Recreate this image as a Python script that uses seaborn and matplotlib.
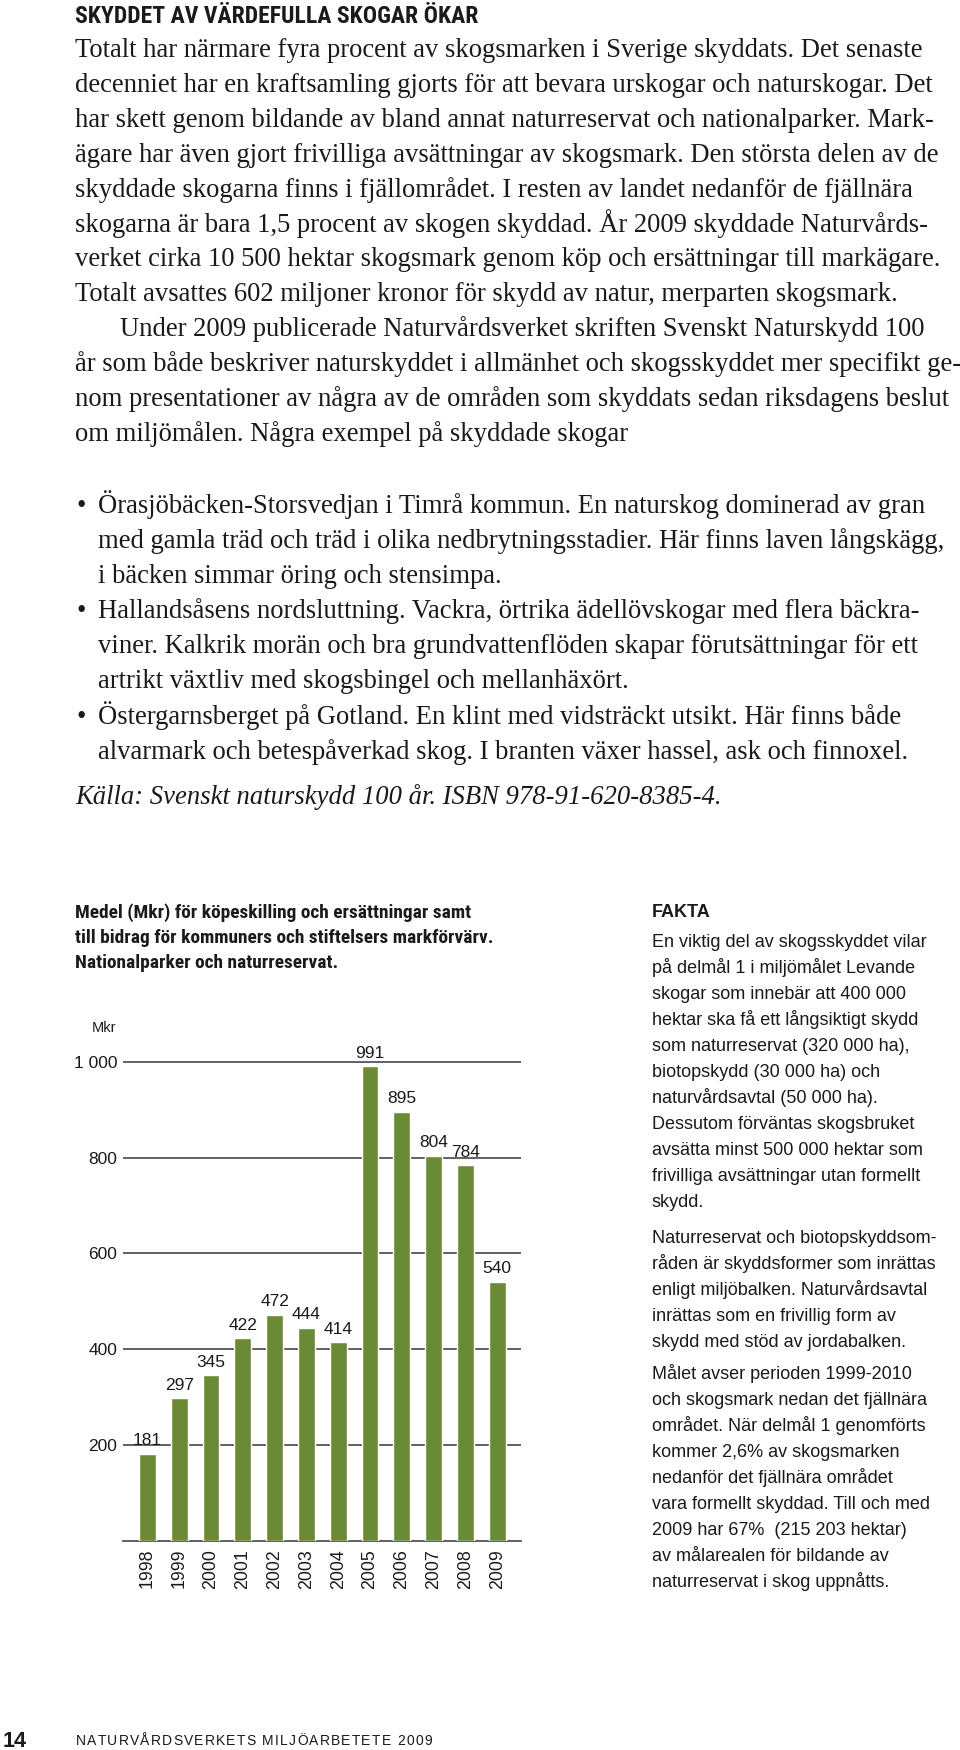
import numpy as np
import pandas as pd
import seaborn as sns
import matplotlib.pyplot as plt
from matplotlib import font_manager
from matplotlib.font_manager import FontProperties

# Data
years = ['1998', '1999', '2000', '2001', '2002', '2003',
         '2004', '2005', '2006', '2007', '2008', '2009']
mkr = [181, 297, 345, 422, 472, 444, 414, 991, 895, 804, 784, 540]
y_ticks = [200, 400, 600, 800, 1000]
y_tick_labels = ['200', '400', '600', '800', '1 000']

heading = 'SKYDDET AV VÄRDEFULLA SKOGAR ÖKAR'
body_lines = [
    'Totalt har närmare fyra procent av skogsmarken i Sverige skyddats. Det senaste',
    'decenniet har en kraftsamling gjorts för att bevara urskogar och naturskogar. Det',
    'har skett genom bildande av bland annat naturreservat och nationalparker. Mark-',
    'ägare har även gjort frivilliga avsättningar av skogsmark. Den största delen av de',
    'skyddade skogarna finns i fjällområdet. I resten av landet nedanför de fjällnära',
    'skogarna är bara 1,5 procent av skogen skyddad. År 2009 skyddade Naturvårds-',
    'verket cirka 10 500 hektar skogsmark genom köp och ersättningar till markägare.',
    'Totalt avsattes 602 miljoner kronor för skydd av natur, merparten skogsmark.',
    'Under 2009 publicerade Naturvårdsverket skriften Svenskt Naturskydd 100',
    'år som både beskriver naturskyddet i allmänhet och skogsskyddet mer specifikt ge-',
    'nom presentationer av några av de områden som skyddats sedan riksdagens beslut',
    'om miljömålen. Några exempel på skyddade skogar',
]
bullet_items = [
    ['Örasjöbäcken-Storsvedjan i Timrå kommun. En naturskog dominerad av gran',
     'med gamla träd och träd i olika nedbrytningsstadier. Här finns laven långskägg,',
     'i bäcken simmar öring och stensimpa.'],
    ['Hallandsåsens nordsluttning. Vackra, örtrika ädellövskogar med flera bäckra-',
     'viner. Kalkrik morän och bra grundvattenflöden skapar förutsättningar för ett',
     'artrikt växtliv med skogsbingel och mellanhäxört.'],
    ['Östergarnsberget på Gotland. En klint med vidsträckt utsikt. Här finns både',
     'alvarmark och betespåverkad skog. I branten växer hassel, ask och finnoxel.'],
]
source = 'Källa: Svenskt naturskydd 100 år. ISBN 978-91-620-8385-4.'

chart_title = ['Medel (Mkr) för köpeskilling och ersättningar samt',
               'till bidrag för kommuners och stiftelsers markförvärv.',
               'Nationalparker och naturreservat.']
unit = 'Mkr'

fakta_title = 'FAKTA'
fakta_paras = [
    ['En viktig del av skogsskyddet vilar',
     'på delmål 1 i miljömålet Levande',
     'skogar som innebär att 400 000',
     'hektar ska få ett långsiktigt skydd',
     'som naturreservat (320 000 ha),',
     'biotopskydd (30 000 ha) och',
     'naturvårdsavtal (50 000 ha).',
     'Dessutom förväntas skogsbruket',
     'avsätta minst 500 000 hektar som',
     'frivilliga avsättningar utan formellt',
     'skydd.'],
    ['Naturreservat och biotopskyddsom-',
     'råden är skyddsformer som inrättas',
     'enligt miljöbalken. Naturvårdsavtal',
     'inrättas som en frivillig form av',
     'skydd med stöd av jordabalken.'],
    ['Målet avser perioden 1999-2010',
     'och skogsmark nedan det fjällnära',
     'området. När delmål 1 genomförts',
     'kommer 2,6% av skogsmarken',
     'nedanför det fjällnära området',
     'vara formellt skyddad. Till och med',
     '2009 har 67%  (215 203 hektar)',
     'av målarealen för bildande av',
     'naturreservat i skog uppnåtts.'],
]
footer_page = '14'
footer_text = 'NATURVÅRDSVERKETS MILJÖARBETETE 2009'

GREEN = '#6a8a35'
GRID = '#555555'
INK = '#1a1a1a'

sns.set_style('white')

SANS = 'Liberation Sans'
SERIF = 'Liberation Serif'
plt.rcParams['font.family'] = [SANS, 'DejaVu Sans']


def weight_num(w):
    if isinstance(w, (int, float)):
        return w
    return {'bold': 700, 'heavy': 800, 'black': 900, 'semibold': 600,
            'demibold': 600}.get(str(w).lower(), 400)


def narrow_bold():
    # look for a condensed bold sans among the installed fonts
    prefs = ['Liberation Sans Narrow', 'Roboto Condensed', 'Open Sans Condensed',
             'Noto Sans', 'DejaVu Sans']
    found = {}
    for f in font_manager.fontManager.ttflist:
        narrow = ('Narrow' in f.name or 'Condensed' in f.name
                  or f.stretch in ('condensed', 'semi-condensed', 'extra-condensed'))
        if narrow and 600 <= weight_num(f.weight) <= 750 and f.style == 'normal':
            found.setdefault(f.name, f.fname)
    for p in prefs:
        for name, path in found.items():
            if name.startswith(p):
                return FontProperties(fname=path)
    if found:
        return FontProperties(fname=list(found.values())[0])
    return FontProperties(family=SANS, weight='bold')


NARROW_B = narrow_bold()

W, H = 960, 1750
fig = plt.figure(figsize=(W / 100, H / 100), dpi=100)
renderer = fig.canvas.get_renderer()


def put(x, y, s, **kw):
    kw.setdefault('va', 'baseline')
    kw.setdefault('color', INK)
    return fig.text(x / W, 1 - y / H, s, **kw)


def text_width(s, size, **kw):
    t = fig.text(0, 0, s, fontsize=size, **kw)
    w = t.get_window_extent(renderer).width
    t.remove()
    return w


def fit_size(s, width, **kw):
    return 10 * width / text_width(s, 10, **kw)


# Top text block
put(75, 23, heading, fontproperties=NARROW_B,
    fontsize=min(17, fit_size(heading, 450, fontproperties=NARROW_B)))

body_size = fit_size(body_lines[3], 866, family=SERIF)
for i, line in enumerate(body_lines):
    x = 120 if i == 8 else 75
    put(x, 57 + 34.9 * i, line, family=SERIF, fontsize=body_size)

yb = 513
for item in bullet_items:
    put(77, yb, '•', family=SERIF, fontsize=body_size)
    for line in item:
        put(98, yb, line, family=SERIF, fontsize=body_size)
        yb += 35.1
put(75, 804, source, family=SERIF, style='italic', fontsize=body_size)

# Chart title
title_size = min(14, fit_size(chart_title[1], 418, fontproperties=NARROW_B))
for i, line in enumerate(chart_title):
    put(75, 918 + 25 * i, line, fontproperties=NARROW_B, fontsize=title_size)
put(92, 1032, unit, family=SANS, fontsize=10.5)

# Bar chart
px_per_unit = 0.47875
y0 = 1540.5
top = y0 - 1050 * px_per_unit
ax = fig.add_axes([123.3 / W, 1 - y0 / H, (521 - 123.3) / W, (y0 - top) / H])
sns.barplot(x=years, y=mkr, color=GREEN, saturation=1, width=0.53, ax=ax, zorder=3)
ax.bar_label(ax.containers[0], labels=[str(v) for v in mkr], padding=4,
             fontsize=12.5, color=INK)
ax.set_ylim(0, 1050)
ax.set_xlim(-0.76, 11.75)
ax.set_yticks(y_ticks)
ax.set_yticklabels(y_tick_labels)
ax.yaxis.grid(True, color=GRID, lw=1.3)
ax.xaxis.grid(False)
ax.set_axisbelow(True)
for side in ['left', 'right', 'top']:
    ax.spines[side].set_visible(False)
ax.spines['bottom'].set_color(GRID)
ax.spines['bottom'].set_linewidth(1.3)
ax.tick_params(axis='y', length=0, pad=4.5, labelsize=12.5, labelcolor=INK)
ax.tick_params(axis='x', length=0, pad=6, labelsize=12.8, labelcolor=INK, rotation=90)
ax.set_xlabel('')
ax.set_ylabel('')
ax.patch.set_alpha(0)

# FAKTA column - keep the widest lines inside the page
fakta_size = min(fit_size(fakta_paras[0][3], 290, family=SANS),
                 fit_size(fakta_paras[1][0], 286, family=SANS),
                 fit_size(fakta_paras[1][1], 296, family=SANS),
                 fit_size(fakta_paras[1][2], 290, family=SANS))
put(652, 917, fakta_title, family=SANS, weight='bold', fontsize=fakta_size)
starts = [947, 1243, 1379]
for start, para in zip(starts, fakta_paras):
    for i, line in enumerate(para):
        put(652, start + 26 * i, line, family=SANS, fontsize=fakta_size)

# Footer
put(3, 1747, footer_page, family=SANS, weight='bold', fontsize=15.5)
fsize = 10
widths = [text_width(c, fsize, family=SANS) if c != ' ' else text_width('n', fsize, family=SANS) * 0.55
          for c in footer_text]
track = (356 - sum(widths)) / (len(footer_text) - 1)
x = 76
for c, w in zip(footer_text, widths):
    if c != ' ':
        put(x, 1745, c, family=SANS, fontsize=fsize)
    x += w + track

fig.savefig('out.png', dpi=100, facecolor='white')
